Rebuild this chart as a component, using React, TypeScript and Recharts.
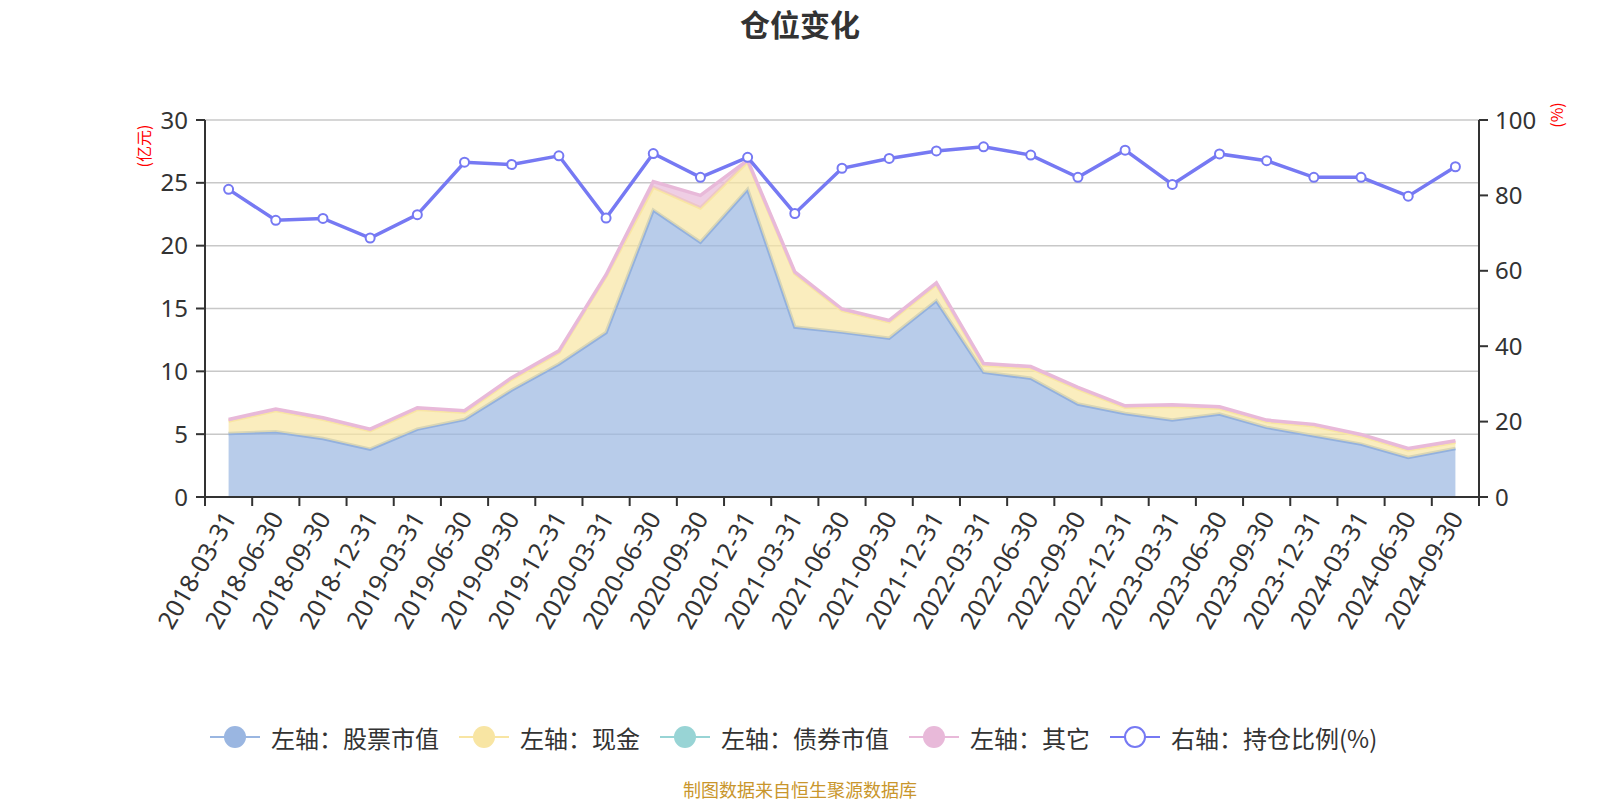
import { ComposedChart, Area, Line, XAxis, YAxis, CartesianGrid } from 'recharts'

const categories = [
  '2018-03-31', '2018-06-30', '2018-09-30', '2018-12-31',
  '2019-03-31', '2019-06-30', '2019-09-30', '2019-12-31',
  '2020-03-31', '2020-06-30', '2020-09-30', '2020-12-31',
  '2021-03-31', '2021-06-30', '2021-09-30', '2021-12-31',
  '2022-03-31', '2022-06-30', '2022-09-30', '2022-12-31',
  '2023-03-31', '2023-06-30', '2023-09-30', '2023-12-31',
  '2024-03-31', '2024-06-30', '2024-09-30',
]

// 亿元
const stockValues = [
  5.06, 5.19, 4.66, 3.81, 5.4, 6.17, 8.51, 10.59, 13.09, 22.83, 20.27, 24.48, 13.52, 13.12,
  12.64, 15.62, 9.93, 9.45, 7.4, 6.65, 6.12, 6.6, 5.54, 4.87, 4.21, 3.14, 3.86,
]
const cashValues = [
  0.99, 1.69, 1.52, 1.47, 1.58, 0.58, 0.87, 0.92, 4.48, 1.82, 2.73, 2.2, 4.27, 1.72,
  1.29, 1.29, 0.57, 0.81, 1.21, 0.49, 1.1, 0.46, 0.46, 0.79, 0.65, 0.6, 0.49,
]
const otherValues = [
  0.12, 0.12, 0.12, 0.12, 0.12, 0.12, 0.12, 0.12, 0.12, 0.45, 1.0, 0.12, 0.12, 0.12,
  0.12, 0.12, 0.12, 0.12, 0.12, 0.12, 0.12, 0.12, 0.12, 0.12, 0.12, 0.12, 0.12,
]
// %
const ratioValues = [
  81.6, 73.4, 73.9, 68.7, 74.9, 88.8, 88.2, 90.5, 74.0, 91.1, 84.8, 90.1, 75.2, 87.2,
  89.8, 91.8, 92.9, 90.7, 84.8, 92.0, 82.9, 91.0, 89.2, 84.8, 84.8, 79.8, 87.6,
]

const leftTicks = [0, 5, 10, 15, 20, 25, 30]
const rightTicks = [0, 20, 40, 60, 80, 100]

const chartData = categories.map((date, i) => ({
  date,
  stock: stockValues[i],
  cash: cashValues[i],
  other: otherValues[i],
  ratio: ratioValues[i],
}))

const COLORS = {
  stock: '#9ab6e1',
  cash: '#f8e5a3',
  bond: '#98d4d5',
  other: '#e8b9d9',
  ratio: '#7679f3',
}

const legendItems = [
  { name: '左轴：股票市值', color: COLORS.stock, hollow: false },
  { name: '左轴：现金', color: COLORS.cash, hollow: false },
  { name: '左轴：债券市值', color: COLORS.bond, hollow: false },
  { name: '左轴：其它', color: COLORS.other, hollow: false },
  { name: '右轴：持仓比例(%)', color: COLORS.ratio, hollow: true },
]

const W = 1600
const H = 800
const PLOT_LEFT = 205
const PLOT_RIGHT = 1479
const PLOT_TOP = 120
const PLOT_BOTTOM = 497
const Y_AXIS_W = 60
const X_AXIS_H = 100
const BAND = (PLOT_RIGHT - PLOT_LEFT) / categories.length

const numFont = "'Noto Sans', sans-serif"
const cjkFont = "'Noto Sans CJK SC', 'Noto Sans', sans-serif"

function DateTick(props: any) {
  const { x, payload, index } = props
  const ly = PLOT_BOTTOM + 16
  const last = index === categories.length - 1
  return (
    <g>
      <line x1={x - BAND / 2} x2={x - BAND / 2} y1={PLOT_BOTTOM} y2={PLOT_BOTTOM + 9} stroke="#333" strokeWidth={2} />
      {last && (
        <line x1={x + BAND / 2} x2={x + BAND / 2} y1={PLOT_BOTTOM} y2={PLOT_BOTTOM + 9} stroke="#333" strokeWidth={2} />
      )}
      <text
        x={x}
        y={ly}
        transform={`rotate(-60, ${x}, ${ly})`}
        textAnchor="end"
        dominantBaseline="central"
        fill="#333"
        fontSize={25}
        fontFamily={numFont}
      >
        {payload.value}
      </text>
    </g>
  )
}

function LegendIcon({ color, hollow }: { color: string; hollow: boolean }) {
  return (
    <svg width={50} height={26}>
      <line x1={0} x2={50} y1={13} y2={13} stroke={color} strokeWidth={2} />
      <circle cx={25} cy={13} r={hollow ? 10 : 11} fill={hollow ? '#fff' : color} stroke={hollow ? color : 'none'} strokeWidth={2} />
    </svg>
  )
}

export default function App() {
  return (
    <div style={{ position: 'absolute', left: 0, top: 0, width: W, height: H, background: '#fff', fontFamily: cjkFont }}>
      <div
        style={{
          position: 'absolute', left: 0, top: 0, width: W, lineHeight: '46px', textAlign: 'center',
          fontSize: 30, fontWeight: 'bold', color: '#333',
        }}
      >
        仓位变化
      </div>

      <ComposedChart
        width={W}
        height={H}
        data={chartData}
        margin={{
          top: PLOT_TOP,
          left: PLOT_LEFT - Y_AXIS_W,
          right: W - PLOT_RIGHT - Y_AXIS_W,
          bottom: H - PLOT_BOTTOM - X_AXIS_H,
        }}
      >
        <CartesianGrid yAxisId="left" vertical={false} stroke="#c8c8c8" strokeWidth={1.5} />
        <XAxis
          dataKey="date"
          interval={0}
          height={X_AXIS_H}
          padding={{ left: BAND / 2, right: BAND / 2 }}
          axisLine={{ stroke: '#333', strokeWidth: 2 }}
          tickLine={false}
          tick={<DateTick />}
        />
        <YAxis
          yAxisId="left"
          width={Y_AXIS_W}
          domain={[0, 30]}
          ticks={leftTicks}
          interval={0}
          tickSize={9}
          tickMargin={8}
          axisLine={{ stroke: '#333', strokeWidth: 2 }}
          tickLine={{ stroke: '#333', strokeWidth: 2 }}
          tick={{ fill: '#333', fontSize: 24, fontFamily: numFont }}
        />
        <YAxis
          yAxisId="right"
          orientation="right"
          width={Y_AXIS_W}
          domain={[0, 100]}
          ticks={rightTicks}
          interval={0}
          tickSize={9}
          tickMargin={7}
          axisLine={{ stroke: '#333', strokeWidth: 2 }}
          tickLine={{ stroke: '#333', strokeWidth: 2 }}
          tick={{ fill: '#333', fontSize: 24, fontFamily: numFont }}
        />
        <Area
          yAxisId="left"
          type="linear"
          dataKey="stock"
          stackId="pos"
          stroke="#93b1de"
          strokeWidth={3.5}
          fill={COLORS.stock}
          fillOpacity={0.7}
          isAnimationActive={false}
        />
        <Area
          yAxisId="left"
          type="linear"
          dataKey="cash"
          stackId="pos"
          stroke={COLORS.cash}
          strokeWidth={3.5}
          fill={COLORS.cash}
          fillOpacity={0.7}
          isAnimationActive={false}
        />
        <Area
          yAxisId="left"
          type="linear"
          dataKey="other"
          stackId="pos"
          stroke={COLORS.other}
          strokeWidth={3.5}
          fill={COLORS.other}
          fillOpacity={0.7}
          isAnimationActive={false}
        />
        <Line
          yAxisId="right"
          type="linear"
          dataKey="ratio"
          stroke={COLORS.ratio}
          strokeWidth={3.5}
          dot={{ r: 4.5, fill: '#fff', stroke: COLORS.ratio, strokeWidth: 2 }}
          isAnimationActive={false}
        />
      </ComposedChart>

      <div
        style={{
          position: 'absolute', left: 143, top: 146, transform: 'translate(-50%, -50%) rotate(-90deg)',
          whiteSpace: 'nowrap', fontSize: 16, color: 'red',
        }}
      >
        (亿元)
      </div>
      <div
        style={{
          position: 'absolute', left: 1556, top: 115, transform: 'translate(-50%, -50%) rotate(-90deg)',
          whiteSpace: 'nowrap', fontSize: 16, color: 'red',
        }}
      >
        (%)
      </div>

      <div style={{ position: 'absolute', left: 210, top: 722, height: 30, display: 'flex', alignItems: 'center', gap: 20 }}>
        {legendItems.map((it) => (
          <div key={it.name} style={{ display: 'flex', alignItems: 'center' }}>
            <LegendIcon color={it.color} hollow={it.hollow} />
            <span style={{ marginLeft: 11, fontSize: 24, color: '#333', whiteSpace: 'nowrap' }}>{it.name}</span>
          </div>
        ))}
      </div>

      <div style={{ position: 'absolute', left: 0, top: 776, width: W, textAlign: 'center', fontSize: 18, color: '#c9962c', lineHeight: '26px' }}>
        制图数据来自恒生聚源数据库
      </div>
    </div>
  )
}
